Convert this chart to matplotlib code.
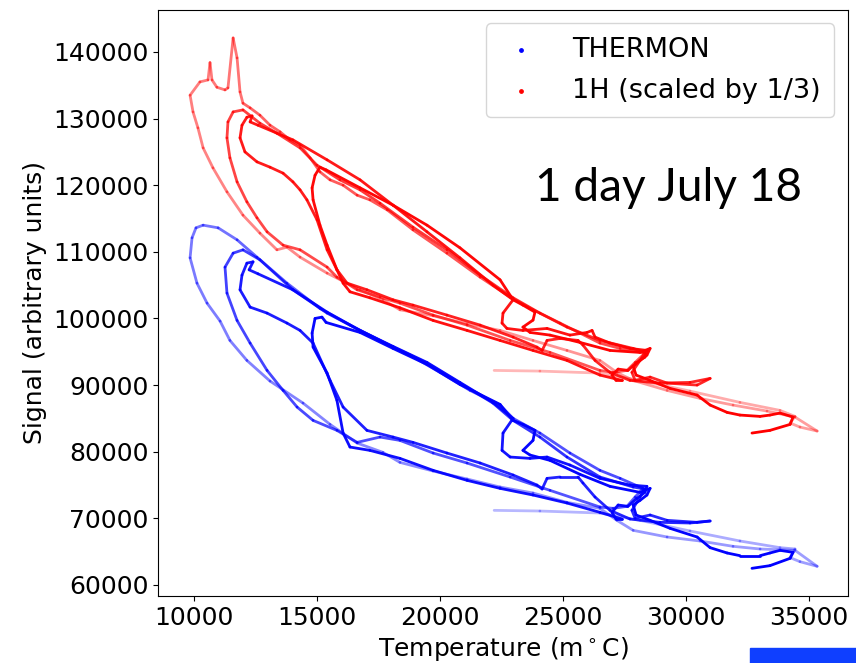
import numpy as np
import matplotlib
matplotlib.use("Agg")
import matplotlib.pyplot as plt
from matplotlib.collections import LineCollection
from matplotlib.patches import Rectangle
from matplotlib.colors import to_rgb

# Temperatures in degC (x1000 -> m degC), signals in thousands (x1000)
# THERMON trace, split in time order
thermon_a_t = [22.2, 24.06, 26.5, 28.13, 30.16, 32.19, 33.82, 34.43, 34.23, 34.63, 35.33]
thermon_a_s = [71.2, 71.1, 70.8, 69.7, 68.1, 66.6, 65.6, 65.4, 64.1, 63.5, 62.8]
thermon_b_t = [35.33, 34.43, 33.01, 31.91, 30.57, 29.23, 27.85, 27.19, 26.5, 25.16, 23.78, 22.44, 21.10,
               19.72, 18.37, 17.68, 16.63, 15.53, 14.43, 13.09, 12.15, 11.46, 11.06, 10.53, 10.12, 9.84,
               9.92, 10.08, 10.37, 10.98, 11.75]
thermon_b_s = [62.8, 65.2, 65.4, 65.8, 66.6, 67.2, 68.2, 69.7, 71.5, 72.4, 73.8, 74.7, 75.9,
               77.1, 78.4, 79.9, 81.3, 84.1, 87.3, 90.6, 93.7, 96.7, 99.6, 102.3, 105.3, 109.1,
               112.1, 113.6, 114.0, 113.6, 111.8]
thermon_c_t = [11.75, 12.56, 13.78, 15.12, 16.34, 17.56, 18.78, 20.0, 21.22, 22.44, 22.97, 24.06,
               25.28, 26.5, 27.32, 28.25]
thermon_c_s = [111.8, 109.2, 105.3, 101.5, 99.0, 96.7, 94.5, 91.9, 89.2, 87.0, 85.0, 82.8,
               79.8, 77.2, 76.0, 74.5]
thermon_d_t = [28.25, 27.93, 27.6, 27.03, 26.5, 24.47, 22.85, 21.10, 19.72, 18.37, 17.56, 16.63,
               15.81, 14.84, 14.19, 13.62, 12.97, 12.28, 11.75, 11.34, 11.26, 11.59, 11.99]
thermon_d_s = [74.5, 73.2, 71.8, 71.5, 71.7, 74.2, 76.2, 78.3, 79.8, 81.7, 82.2, 81.4,
               83.2, 84.7, 86.7, 89.2, 92.2, 96.3, 99.7, 103.8, 107.7, 109.8, 110.3]
thermon_e_t = [11.99, 12.68, 14.02, 15.41, 16.75, 18.09, 19.47, 20.81, 22.15, 22.97, 24.06, 25.16,
               26.5, 27.85, 28.33, 28.13, 27.8, 27.93, 28.54, 29.23, 30.45, 30.98, 30.16]
thermon_e_s = [110.3, 108.8, 104.3, 100.8, 98.2, 95.7, 93.3, 90.3, 87.3, 84.7, 82.2, 79.2,
               76.2, 74.7, 74.4, 73.2, 71.2, 70.0, 70.5, 69.7, 69.4, 69.6, 69.3]
thermon_f_t = [30.16, 28.94, 27.72, 26.91, 26.30, 25.81, 25.61, 24.88, 24.35, 24.15, 23.94, 22.97,
               21.63, 20.28, 18.90, 18.09, 17.03, 16.06, 15.53, 14.84, 14.31, 13.78, 12.97, 12.28,
               11.87, 11.95, 12.15, 12.40, 12.24, 12.60]
thermon_f_s = [69.3, 69.4, 69.9, 71.2, 73.2, 75.3, 76.2, 76.2, 76.0, 74.4, 75.0, 76.5,
               78.3, 79.8, 81.4, 82.2, 83.2, 86.7, 90.7, 96.3, 98.2, 99.3, 100.8, 101.7,
               104.3, 106.5, 108.3, 108.5, 107.3, 106.7]
thermon_g_t = [12.60, 14.02, 15.41, 16.75, 18.09, 19.47, 20.81, 22.15, 22.97, 22.56, 22.52, 22.85,
               23.66, 24.35, 25.28, 26.5, 27.72, 28.41, 28.33, 28.0, 27.64, 27.24, 26.99, 27.15, 27.40]
thermon_g_s = [106.7, 104.3, 100.95, 98.2, 95.8, 93.4, 90.4, 87.4, 85.0, 82.8, 80.2, 79.2,
               79.0, 79.2, 78.0, 76.0, 75.0, 74.8, 73.9, 73.0, 71.8, 72.0, 70.9, 69.9, 69.9]
thermon_h_t = [27.40, 26.5, 25.16, 23.78, 22.44, 21.10, 19.72, 18.37, 17.15, 16.34, 16.06, 15.81,
               15.41, 14.84, 14.80, 14.92, 15.2, 15.37]
thermon_h_s = [69.9, 70.9, 72.3, 73.5, 74.5, 75.7, 77.2, 79.0, 80.2, 80.7, 82.8, 87.7,
               91.8, 95.7, 97.8, 100.0, 100.2, 99.4]
thermon_i_t = [15.37, 16.75, 18.09, 19.47, 20.81, 22.44, 22.97, 23.37, 23.86, 23.78, 23.37, 23.66,
               24.47, 25.69, 26.91, 28.13, 28.54, 28.41, 28.13, 27.85, 27.97, 28.54, 29.35, 30.45,
               30.98, 31.67, 32.19, 33.01, 33.41, 33.82, 34.35, 34.23, 33.41, 32.68]
thermon_i_s = [99.4, 97.9, 95.5, 93.1, 90.1, 87.1, 84.7, 84.1, 83.2, 81.7, 80.2, 79.5,
               78.7, 76.6, 74.8, 73.9, 74.5, 73.5, 72.7, 72.0, 70.5, 69.7, 68.5, 67.2,
               65.6, 64.8, 64.4, 64.4, 64.8, 65.2, 64.9, 64.0, 62.9, 62.5]

# 1H trace (already scaled by 1/3)
h1_a_t = [22.2, 24.06, 26.5, 28.13, 30.16, 32.19, 33.82, 34.43, 34.23, 34.63, 35.33]
h1_a_s = [92.2, 92.1, 91.8, 90.7, 89.1, 87.4, 86.2, 85.3, 84.3, 83.7, 83.1]
h1_b_t = [35.33, 34.43, 33.29, 31.91, 30.57, 29.23, 27.85, 27.19, 26.5, 25.16, 23.78, 22.44, 21.10,
          19.72, 18.37, 17.68, 16.75, 15.41, 14.31, 13.78, 13.37, 12.68, 11.99, 11.34, 10.77, 10.37,
          10.16, 9.96, 9.84, 10.24, 10.57, 10.65, 10.73, 10.93, 11.26, 11.38, 11.59, 11.75, 11.87, 11.99]
h1_b_s = [83.1, 85.2, 86.1, 87.0, 88.0, 89.2, 90.7, 91.9, 93.7, 95.2, 96.7, 98.2, 99.2,
          100.4, 101.3, 102.8, 104.3, 106.8, 109.2, 110.7, 110.3, 112.8, 115.5, 119.0, 122.6, 125.6,
          128.6, 131.0, 133.5, 135.5, 135.8, 138.4, 135.8, 134.7, 134.3, 134.6, 142.1, 139.1, 134.0, 132.3]
h1_c_t = [11.99, 12.28, 12.68, 13.09, 13.50, 13.90, 14.31, 14.72, 15.12, 15.53, 16.06, 16.63,
          17.15, 17.85, 18.90, 20.28, 21.63, 22.85, 23.78, 24.88, 25.69, 26.5, 27.32, 28.33]
h1_c_s = [132.3, 131.6, 130.5, 129.0, 128.0, 126.8, 126.0, 124.1, 122.0, 120.8, 120.0, 118.5,
          117.8, 116.3, 113.3, 109.8, 106.2, 103.2, 101.3, 99.3, 97.8, 96.3, 95.5, 94.8]
h1_d_t = [28.33, 27.93, 27.6, 27.03, 26.5, 24.47, 22.85, 21.10, 19.72, 18.37, 17.56, 16.63,
          15.81, 15.41, 14.31, 13.62, 12.97, 12.56, 12.15, 11.75, 11.46, 11.34, 11.38, 11.59, 11.99]
h1_d_s = [94.8, 93.4, 92.2, 91.9, 92.2, 94.9, 96.7, 99.0, 100.5, 102.3, 103.2, 104.3,
          106.2, 107.7, 110.3, 111.0, 113.0, 115.1, 117.5, 120.5, 124.1, 127.1, 129.5, 131.0, 131.3]
h1_e_t = [11.99, 12.68, 13.37, 14.31, 15.0, 15.93, 16.75, 17.56, 18.90, 20.28, 21.63, 22.97,
          24.06, 25.16, 26.5, 27.85, 28.33, 28.13, 27.80, 27.93, 28.54, 29.23, 30.45, 30.98, 30.16]
h1_e_s = [131.3, 129.3, 127.8, 125.6, 123.0, 120.8, 119.3, 117.3, 113.7, 110.3, 106.5, 103.1,
          100.8, 98.7, 96.7, 95.5, 94.9, 93.7, 91.9, 90.7, 91.2, 90.3, 90.0, 91.0, 90.4]
h1_f_t = [30.16, 28.94, 27.72, 26.91, 26.30, 25.81, 25.61, 24.88, 24.35, 24.15, 23.94, 22.97,
          21.63, 20.28, 18.90, 18.09, 17.03, 16.22, 15.81, 15.41, 15.0, 14.59, 14.31, 14.02,
          13.62, 13.09, 12.56, 12.07, 11.87, 11.95, 12.15, 12.36, 12.28, 12.60]
h1_f_s = [90.4, 90.3, 90.7, 91.9, 93.7, 96.0, 96.7, 97.0, 96.7, 95.2, 95.7, 97.2,
          99.0, 100.5, 102.0, 102.8, 104.3, 105.3, 107.3, 110.3, 114.8, 117.8, 119.3, 120.5,
          121.8, 122.7, 123.5, 125.0, 127.1, 129.0, 130.2, 130.4, 129.5, 129.0]
h1_g_t = [12.60, 14.02, 15.41, 16.75, 18.09, 19.47, 20.81, 22.15, 22.97, 22.56, 22.52, 22.72,
          23.37, 24.35, 25.28, 25.98, 26.18, 26.30, 26.91, 27.72, 28.41, 28.33, 28.0, 27.64,
          27.24, 26.99, 27.15, 27.40]
h1_g_s = [129.0, 126.8, 123.8, 120.8, 117.0, 113.0, 109.1, 105.0, 102.8, 100.8, 99.3, 98.5,
          98.2, 98.5, 97.5, 97.9, 98.2, 97.2, 96.3, 95.5, 95.2, 94.2, 93.4, 92.2,
          92.4, 91.5, 90.7, 90.7]
h1_h_t = [27.40, 26.5, 25.16, 23.78, 22.44, 21.10, 19.72, 18.37, 17.15, 16.34, 16.06, 15.81,
          15.41, 15.12, 14.84, 14.80, 14.92, 15.12, 15.37]
h1_h_s = [90.7, 91.5, 93.7, 95.2, 96.7, 98.2, 99.7, 101.6, 103.1, 104.0, 105.3, 107.3,
          111.0, 114.0, 117.8, 119.6, 121.5, 122.7, 122.3]
h1_i_t = [15.37, 16.75, 18.09, 19.47, 20.81, 22.44, 22.97, 23.37, 23.86, 23.78, 23.37, 23.66,
          24.47, 25.69, 26.91, 28.13, 28.54, 28.41, 28.13, 27.85, 27.97, 28.54, 29.35, 30.45,
          30.98, 31.67, 32.19, 33.01, 33.41, 33.82, 34.35, 34.23, 33.41, 32.68]
h1_i_s = [122.3, 119.6, 117.0, 114.0, 110.6, 105.8, 102.8, 102.0, 100.95, 99.75, 98.7, 97.9,
          97.5, 96.4, 95.2, 94.9, 95.5, 94.5, 93.7, 92.8, 91.5, 90.7, 89.5, 88.5,
          87.0, 85.9, 85.5, 85.3, 85.5, 85.8, 85.2, 84.1, 83.2, 82.8]

thermon_parts = [(thermon_a_t, thermon_a_s), (thermon_b_t, thermon_b_s), (thermon_c_t, thermon_c_s),
                 (thermon_d_t, thermon_d_s), (thermon_e_t, thermon_e_s), (thermon_f_t, thermon_f_s),
                 (thermon_g_t, thermon_g_s), (thermon_h_t, thermon_h_s), (thermon_i_t, thermon_i_s)]
h1_parts = [(h1_a_t, h1_a_s), (h1_b_t, h1_b_s), (h1_c_t, h1_c_s), (h1_d_t, h1_d_s),
            (h1_e_t, h1_e_s), (h1_f_t, h1_f_s), (h1_g_t, h1_g_s), (h1_h_t, h1_h_s),
            (h1_i_t, h1_i_s)]
# older points are drawn fainter
part_alpha = [(0.28, 0.38), (0.38, 0.55), (0.6, 0.7), (0.65, 0.75), (0.75, 0.85),
              (0.85, 0.9), (0.9, 0.95), (0.92, 0.97), (0.97, 1.0)]


def draw_trace(ax, parts, color, lw=2.0):
    rgb = to_rgb(color)
    for (t, s), (a0, a1) in zip(parts, part_alpha):
        pts = np.column_stack([np.asarray(t) * 1000, np.asarray(s) * 1000])
        segs = np.stack([pts[:-1], pts[1:]], axis=1)
        cols = [(*rgb, a) for a in np.linspace(a0, a1, len(segs))]
        ax.add_collection(LineCollection(segs, colors=cols, linewidths=lw,
                                         capstyle="round", joinstyle="round"))


fig = plt.figure(figsize=(8.56, 6.63), dpi=100)
ax = fig.add_axes([0.1846, 0.1011, 0.8061, 0.8839])

draw_trace(ax, thermon_parts, "blue")
draw_trace(ax, h1_parts, "red")

ax.scatter([], [], s=6, c="blue", label="THERMON")
ax.scatter([], [], s=6, c="red", label="1H (scaled by 1/3)")

ax.set_xlim(8537, 36585)
ax.set_ylim(58350, 146300)
ax.set_xticks([10000, 15000, 20000, 25000, 30000, 35000])
ax.set_yticks(np.arange(60000, 140001, 10000))
ax.tick_params(labelsize=18)
ax.set_xlabel("Temperature (m$^\\circ$C)", fontsize=18)
ax.set_ylabel("Signal (arbitrary units)", fontsize=18)

ax.legend(loc="upper right", fontsize=19.5, handlelength=1.6, handletextpad=1.1,
          borderpad=0.5, labelspacing=0.55, scatterpoints=1)
ax.text(0.933, 0.696, "1 day July 18", transform=ax.transAxes, ha="right",
        va="center", fontsize=33, family=["Lato", "DejaVu Sans"])

# blue bar at bottom right of the original picture
fig.add_artist(Rectangle((750 / 856, 0), 106 / 856, 15 / 663, transform=fig.transFigure,
                         color="#0f3fff"))

fig.savefig("out.png", dpi=100)
